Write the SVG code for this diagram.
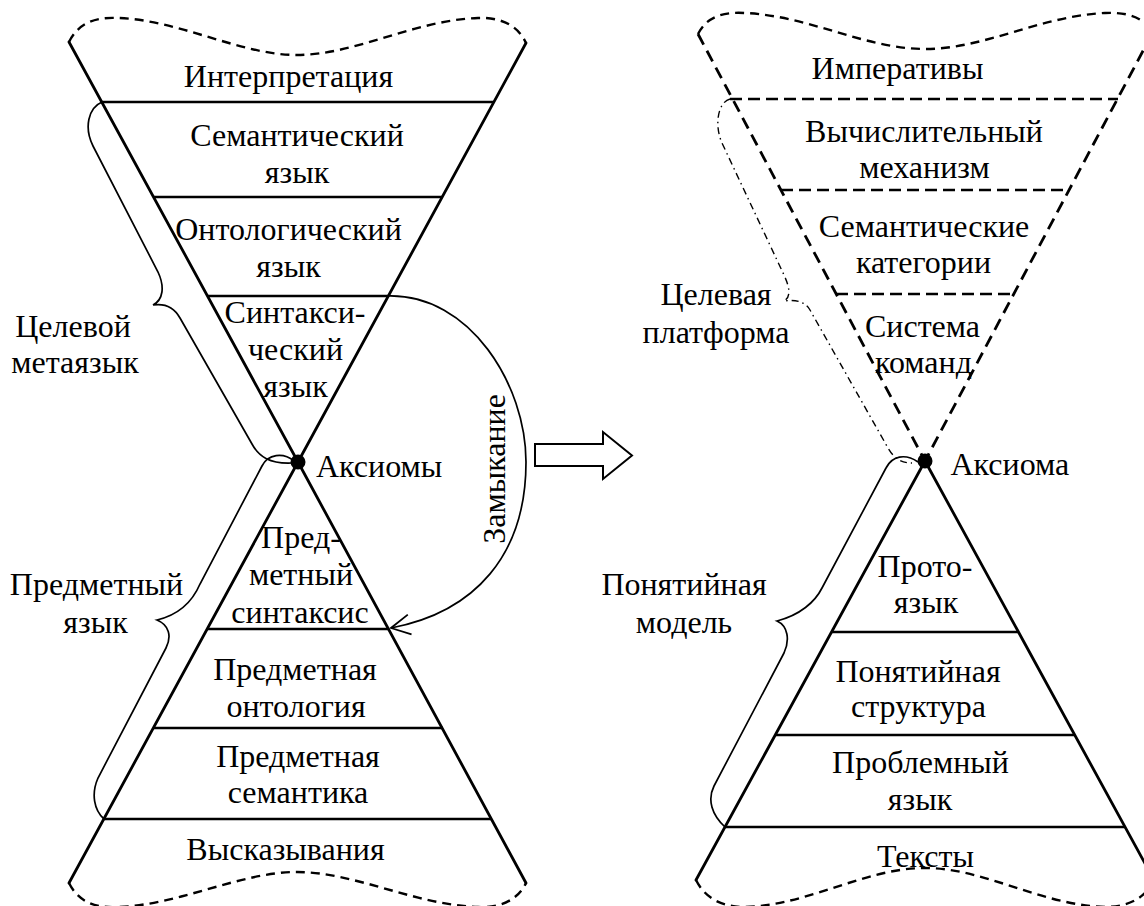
<svg xmlns="http://www.w3.org/2000/svg" width="1144" height="906" viewBox="0 0 1144 906">
<style>
  .t { font-family: 'Liberation Serif', 'Times New Roman', serif; font-size: 32px; fill: #000; }
  .c { text-anchor: middle; }
  .side { stroke: #000; stroke-width: 2.8; fill: none; stroke-linecap: round; }
  .layer { stroke: #000; stroke-width: 2.6; fill: none; }
  .wave { stroke: #000; stroke-width: 2.4; fill: none; stroke-dasharray: 9 6; }
  .dside { stroke: #000; stroke-width: 2.8; fill: none; stroke-dasharray: 12 7; }
  .dlayer { stroke: #000; stroke-width: 2.6; fill: none; stroke-dasharray: 12 6; }
  .brace { stroke: #000; stroke-width: 1.7; fill: none; }
  .dbrace { stroke: #000; stroke-width: 1.4; fill: none; stroke-dasharray: 7 4 1.5 4; }
</style>
<defs>
  <marker id="open" viewBox="0 0 24 24" refX="22" refY="12" markerWidth="24" markerHeight="24" markerUnits="userSpaceOnUse" orient="auto">
    <path d="M3,2 L22,12 L3,22" fill="none" stroke="#000" stroke-width="1.8"/>
  </marker>
</defs>
<rect width="1144" height="906" fill="#fff"/>

<!-- Left hourglass -->
<g id="left-hourglass">
  <path class="wave" d="M69,42 C 80,20 100,17 118,18 C 180,20 240,55 297,55 C 355,55 415,20 478,18 C 500,17 518,25 526,43"/>
  <path class="side" d="M69,42 L298,462 L526,43"/>
  <path class="side" d="M69,883 L298,462 L526,883"/>
  <path class="wave" d="M69,883 C 80,905 100,908 118,907 C 180,905 240,872 297,872 C 355,872 415,905 478,907 C 500,908 518,900 526,883"/>
  <line class="layer" x1="102" y1="102" x2="493" y2="102"/>
  <line class="layer" x1="153" y1="197" x2="442" y2="197"/>
  <line class="layer" x1="207" y1="296" x2="388" y2="296"/>
  <line class="layer" x1="207" y1="629" x2="389" y2="629"/>
  <line class="layer" x1="153" y1="728" x2="443" y2="728"/>
  <line class="layer" x1="104" y1="819" x2="492" y2="819"/>
  <circle cx="298" cy="462" r="7.5" fill="#000"/>
</g>
<g id="l-interp"><text class="t c" x="288.5" y="87">Интерпретация</text></g>
<g id="l-sem"><text class="t c" x="297" y="146">Семантический</text><text class="t c" x="297" y="183">язык</text></g>
<g id="l-ont"><text class="t c" x="288.5" y="240">Онтологический</text><text class="t c" x="288.5" y="277">язык</text></g>
<g id="l-syn"><text class="t c" x="295" y="323">Синтакси-</text><text class="t c" x="295.5" y="360">ческий</text><text class="t c" x="295.5" y="397">язык</text></g>
<g id="l-axioms"><text class="t" x="316" y="477">Аксиомы</text></g>
<g id="l-psyn"><text class="t c" x="301" y="548">Пред-</text><text class="t c" x="301" y="585">метный</text><text class="t c" x="300" y="623">синтаксис</text></g>
<g id="l-pont"><text class="t c" x="295" y="680">Предметная</text><text class="t c" x="296" y="717">онтология</text></g>
<g id="l-psem"><text class="t c" x="298" y="767">Предметная</text><text class="t c" x="298" y="803">семантика</text></g>
<g id="l-stmt"><text class="t c" x="285.5" y="860">Высказывания</text></g>
<g id="l-target"><text class="t c" x="73" y="337">Целевой</text><text class="t c" x="75" y="373">метаязык</text></g>
<g id="l-subject"><text class="t c" x="96.5" y="595">Предметный</text><text class="t c" x="95.5" y="633">язык</text></g>
<g id="l-closure"><text class="t c" transform="translate(505,469) rotate(-90)">Замыкание</text></g>

<!-- Right hourglass -->
<g id="right-hourglass">
  <path class="wave" d="M698,34 C 708,14 728,12 745,13 C 810,16 865,49 925,49 C 985,49 1040,16 1105,13 C 1125,12 1145,16 1152,34"/>
  <path class="dside" d="M698,34 L925,461"/>
  <path class="dside" d="M1152,34 L925,461"/>
  <line class="dlayer" x1="730" y1="99" x2="1118" y2="99"/>
  <line class="dlayer" x1="781" y1="190" x2="1069" y2="190"/>
  <line class="dlayer" x1="836" y1="294" x2="1014" y2="294"/>
  <path class="side" d="M696,880 L925,461 L1154,880"/>
  <line class="layer" x1="831" y1="632" x2="1018" y2="632"/>
  <line class="layer" x1="775" y1="735" x2="1075" y2="735"/>
  <line class="layer" x1="725" y1="827" x2="1125" y2="827"/>
  <path class="wave" d="M696,880 C 706,900 724,907 745,907 C 810,905 865,868 925,868 C 985,868 1040,905 1105,907 C 1125,907 1145,900 1154,880"/>
  <circle cx="925" cy="461" r="7.5" fill="#000"/>
</g>
<g id="r-imp"><text class="t c" x="897.5" y="79">Императивы</text></g>
<g id="r-comp"><text class="t c" x="924" y="142">Вычислительный</text><text class="t c" x="924.5" y="178">механизм</text></g>
<g id="r-semcat"><text class="t c" x="924" y="237">Семантические</text><text class="t c" x="923.5" y="273">категории</text></g>
<g id="r-isa"><text class="t c" x="922.5" y="337">Система</text><text class="t c" x="923.5" y="373">команд</text></g>
<g id="r-axiom"><text class="t" x="950.5" y="475">Аксиома</text></g>
<g id="r-proto"><text class="t c" x="925" y="577">Прото-</text><text class="t c" x="926" y="613">язык</text></g>
<g id="r-concept"><text class="t c" x="918" y="682">Понятийная</text><text class="t c" x="918.5" y="717">структура</text></g>
<g id="r-problem"><text class="t c" x="920.5" y="773">Проблемный</text><text class="t c" x="920" y="810">язык</text></g>
<g id="r-texts"><text class="t c" x="925.5" y="867">Тексты</text></g>
<g id="r-platform"><text class="t c" x="716" y="305">Целевая</text><text class="t c" x="716" y="343">платформа</text></g>
<g id="r-model"><text class="t c" x="684" y="595">Понятийная</text><text class="t c" x="684" y="633">модель</text></g>

<!-- Connectors -->
<g id="connectors">
  <path class="brace" d="M102,102 C 88,108 84,128 93,146 L 158,272 C 165,287 163,300 153,305 C 166,303 175,309 180,318 L 252,444 C 259,457 270,464 292,463"/>
  <path class="brace" d="M294,461 C 283,452 268,454 262,466 L 200,584 C 194,598 182,614 157,620 C 169,625 172,636 166,648 L 98,778 C 91,794 94,810 104,819"/>
  <path class="brace" d="M388,296 C 470,294 526,385 526,462 C 526,555 475,612 391,628" marker-end="url(#open)"/>
  <polygon points="535,444 603,444 603,432 632,455.5 603,479 603,466 535,466" fill="#fff" stroke="#000" stroke-width="2"/>
  <path class="dbrace" d="M730,99 C 718,102 714,125 722,143 L 784,275 C 790,288 791,297 784,301 C 798,299 806,303 810,310 L 888,448 C 895,460 903,463 912,463"/>
  <path class="brace" d="M918,462 C 905,453 892,456 886,468 L 822,588 C 815,602 800,615 777,621 C 788,626 790,640 784,653 L 714,786 C 707,800 712,815 725,827"/>
</g>
</svg>
